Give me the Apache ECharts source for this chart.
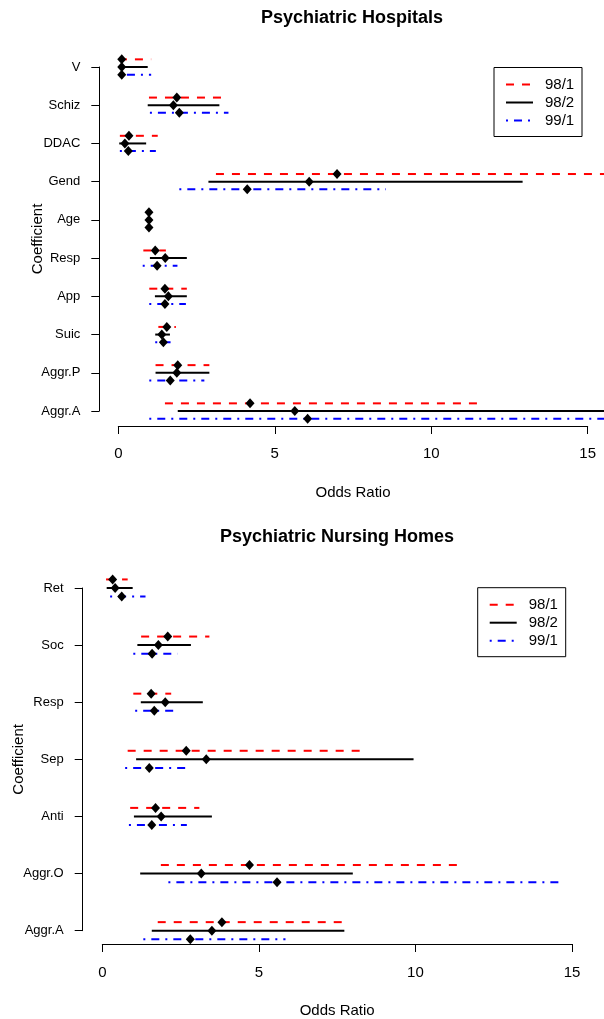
<!DOCTYPE html>
<html>
<head>
<meta charset="utf-8">
<script src="https://cdn.jsdelivr.net/npm/echarts@6/dist/echarts.min.js"></script>
<style>
html,body{margin:0;padding:0;background:#fff;}
#chart{width:604px;height:1019px;}
</style>
</head>
<body>
<div id="chart"></div>
<script>
// ---------- Data ----------
const seriesNames = ['98/1', '98/2', '99/1'];
const xTicks = [0, 5, 10, 15];

// Psychiatric Hospitals (top to bottom)
const hospCats = ['V', 'Schiz', 'DDAC', 'Gend', 'Age', 'Resp', 'App', 'Suic', 'Aggr.P', 'Aggr.A'];
const hosp981Est = [0.11, 1.87, 0.34, 6.99, 0.98, 1.18, 1.49, 1.55, 1.90, 4.21];
const hosp981Lo  = [0.02, 0.98, 0.05, 3.12, 0.96, 0.80, 0.99, 1.28, 1.19, 1.49];
const hosp981Hi  = [1.05, 3.48, 1.26, 17.0, 1.00, 1.52, 2.19, 1.84, 2.91, 11.56];
const hosp982Est = [0.11, 1.76, 0.21, 6.10, 0.98, 1.50, 1.60, 1.39, 1.87, 5.64];
const hosp982Lo  = [0.00, 0.94, 0.03, 2.88, 0.96, 1.01, 1.17, 1.18, 1.19, 1.90];
const hosp982Hi  = [0.94, 3.23, 0.89, 12.92, 1.00, 2.19, 2.19, 1.65, 2.91, 17.0];
const hosp991Est = [0.11, 1.95, 0.32, 4.12, 0.98, 1.24, 1.49, 1.44, 1.66, 6.05];
const hosp991Lo  = [0.02, 1.01, 0.05, 1.95, 0.96, 0.78, 0.99, 1.18, 0.99, 0.99];
const hosp991Hi  = [1.05, 3.52, 1.20, 8.55, 1.00, 1.89, 2.16, 1.67, 2.75, 17.0];

// Psychiatric Nursing Homes (top to bottom)
const nursCats = ['Ret', 'Soc', 'Resp', 'Sep', 'Anti', 'Aggr.O', 'Aggr.A'];
const nurs981Est = [0.33, 2.09, 1.56, 2.68, 1.70, 4.70, 3.82];
const nurs981Lo  = [0.12, 1.24, 0.99, 0.81, 0.89, 1.87, 1.77];
const nurs981Hi  = [0.81, 3.42, 2.20, 8.44, 3.10, 11.45, 7.90];
const nurs982Est = [0.41, 1.79, 2.01, 3.32, 1.88, 3.16, 3.50];
const nurs982Lo  = [0.14, 1.12, 1.23, 1.08, 1.01, 1.21, 1.58];
const nurs982Hi  = [0.97, 2.83, 3.21, 9.94, 3.50, 8.00, 7.73];
const nurs991Est = [0.62, 1.59, 1.66, 1.50, 1.58, 5.58, 2.81];
const nurs991Lo  = [0.25, 0.99, 1.05, 0.73, 0.85, 2.11, 1.31];
const nurs991Hi  = [1.38, 2.40, 2.43, 2.81, 2.70, 14.59, 5.85];

// ---------- Styles ----------
const FONT = '"Liberation Sans", Arial, Helvetica, sans-serif';
const styles = [
  { color: '#ff0000', dash: [8, 8] },
  { color: '#000000', dash: null },
  { color: '#0000ff', dash: [2, 6, 8, 6] }
];

function buildData(lo, est, hi) {
  return est.map((e, i) => [lo[i], e, hi[i], i]);
}

function makeSeries(name, data, si, gridIdx, offset) {
  const st = styles[si];
  return {
    type: 'custom',
    name: name,
    xAxisIndex: gridIdx,
    yAxisIndex: gridIdx,
    clip: false,
    data: data,
    encode: { x: [0, 1, 2], y: 3 },
    renderItem: function (params, api) {
      const y = api.value(3) + offset;
      const p0 = api.coord([api.value(0), y]);
      const p1 = api.coord([api.value(2), y]);
      const pe = api.coord([api.value(1), y]);
      const hw = 4.5, hh = 5;
      return {
        type: 'group',
        children: [
          {
            type: 'line',
            shape: { x1: p0[0], y1: p0[1], x2: p1[0], y2: p1[1] },
            style: { stroke: st.color, lineWidth: 2, lineDash: st.dash, lineCap: 'butt' }
          },
          {
            type: 'polygon',
            z2: 10,
            shape: { points: [[pe[0], pe[1] - hh], [pe[0] + hw, pe[1]], [pe[0], pe[1] + hh], [pe[0] - hw, pe[1]]] },
            style: { fill: '#000' }
          }
        ]
      };
    }
  };
}

function xAxisCfg(gridIdx, offset, margin, nameGap) {
  return {
    type: 'value', gridIndex: gridIdx, min: 0, max: 15, interval: 5,
    position: 'bottom', offset: offset,
    name: 'Odds Ratio', nameLocation: 'middle', nameGap: nameGap, nameMoveOverlap: false,
    nameTextStyle: { fontFamily: FONT, fontSize: 15, color: '#000' },
    axisLine: { show: true, onZero: false, lineStyle: { color: '#000', width: 1 } },
    axisTick: { show: true, length: 8, lineStyle: { color: '#000', width: 1 } },
    axisLabel: { fontFamily: FONT, fontSize: 15, color: '#000', margin: margin,
      formatter: v => (xTicks.indexOf(v) >= 0 ? String(v) : '') },
    splitLine: { show: false }
  };
}

function yAxisCfg(gridIdx, cats, offset, nameGap) {
  return {
    type: 'value', gridIndex: gridIdx, min: 0, max: cats.length - 1, interval: 1,
    inverse: true, position: 'left', offset: offset,
    name: 'Coefficient', nameLocation: 'middle', nameGap: nameGap, nameRotate: 90, nameMoveOverlap: false,
    nameTextStyle: { fontFamily: FONT, fontSize: 15, color: '#000' },
    axisLine: { show: true, onZero: false, lineStyle: { color: '#000', width: 1 } },
    axisTick: { show: true, length: 8, lineStyle: { color: '#000', width: 1 } },
    axisLabel: { fontFamily: FONT, fontSize: 13, color: '#000', margin: 19,
      formatter: v => (cats[v] !== undefined ? cats[v] : '') },
    splitLine: { show: false }
  };
}

function legendGraphic(x, y) {
  const els = [{
    type: 'rect', shape: { x: x, y: y, width: 88, height: 69 },
    style: { fill: '#fff', stroke: '#000', lineWidth: 1 }, z: 20
  }];
  const rowY = [y + 17, y + 35, y + 53];
  seriesNames.forEach((n, i) => {
    els.push({
      type: 'line', z: 21,
      shape: { x1: x + 12, y1: rowY[i], x2: x + 39, y2: rowY[i] },
      style: { stroke: styles[i].color, lineWidth: 2, lineDash: styles[i].dash }
    });
    els.push({
      type: 'text', z: 21, x: x + 51, y: rowY[i],
      style: { text: n, fontFamily: FONT, fontSize: 15, fill: '#000', verticalAlign: 'middle', align: 'left' }
    });
  });
  return els;
}

const chart = echarts.init(document.getElementById('chart'), null, { renderer: 'canvas' });

const option = {
  animation: false,
  backgroundColor: '#fff',
  grid: [
    { left: 118.3, right: 16.3, top: 67, height: 344 },
    { left: 102.3, right: 32, top: 588, height: 343 }
  ],
  xAxis: [
    xAxisCfg(0, 15, 20, 59),
    xAxisCfg(1, 13.3, 21, 59)
  ],
  yAxis: [
    yAxisCfg(0, hospCats, 19, 54),
    yAxisCfg(1, nursCats, 19.6, 56)
  ],
  graphic: [
    { type: 'text', x: 352, y: 18, style: { text: 'Psychiatric Hospitals', fontFamily: FONT, fontSize: 18, fontWeight: 'bold', fill: '#000', align: 'center', verticalAlign: 'middle' } },
    { type: 'text', x: 337, y: 537, style: { text: 'Psychiatric Nursing Homes', fontFamily: FONT, fontSize: 18, fontWeight: 'bold', fill: '#000', align: 'center', verticalAlign: 'middle' } }
  ].concat(legendGraphic(494, 67.5)).concat(legendGraphic(477.7, 587.7)),
  series: [
    makeSeries('98/1', buildData(hosp981Lo, hosp981Est, hosp981Hi), 0, 0, -0.2),
    makeSeries('98/2', buildData(hosp982Lo, hosp982Est, hosp982Hi), 1, 0, 0),
    makeSeries('99/1', buildData(hosp991Lo, hosp991Est, hosp991Hi), 2, 0, 0.2),
    makeSeries('98/1', buildData(nurs981Lo, nurs981Est, nurs981Hi), 0, 1, -0.15),
    makeSeries('98/2', buildData(nurs982Lo, nurs982Est, nurs982Hi), 1, 1, 0),
    makeSeries('99/1', buildData(nurs991Lo, nurs991Est, nurs991Hi), 2, 1, 0.15)
  ]
};
chart.setOption(option);
</script>
</body>
</html>
